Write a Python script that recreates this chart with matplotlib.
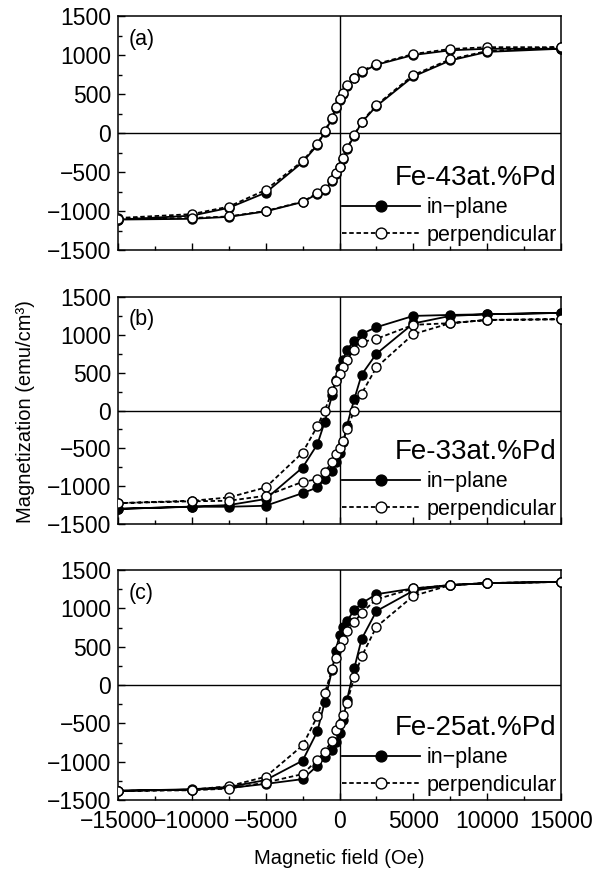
import matplotlib
matplotlib.use("Agg")
import matplotlib.pyplot as plt
from matplotlib.ticker import MultipleLocator

plt.rcParams['font.family'] = ['Liberation Sans', 'DejaVu Sans']

# field steps: down branch (+15000 -> -15000), then up branch back
field_down = [15000, 10000, 7500, 5000, 2500, 1500, 1000, 500, 250, 0,
              -250, -500, -1000, -1500, -2500, -5000, -7500, -10000, -15000]
field_up = field_down[::-1]

# (a) Fe-43at.%Pd
a_inplane_down = [1080, 1080, 1060, 1000, 875, 780, 700, 600, 505, 420,
                  320, 185, 15, -155, -375, -765, -960, -1060, -1110]
a_inplane_up = [-1110, -1100, -1075, -1005, -885, -780, -730, -610, -520, -440,
                -335, -205, -35, 135, 345, 725, 930, 1040, 1080]
a_perp_down = [1100, 1100, 1077, 1013, 885, 795, 710, 615, 517, 434,
               333, 196, 30, -140, -359, -730, -944, -1040, -1090]
a_perp_up = [-1100, -1090, -1070, -1000, -880, -773, -722, -603, -509, -432,
             -325, -196, -26, 145, 359, 744, 945, 1051, 1100]

# (b) Fe-33at.%Pd
b_inplane_down = [1290, 1272, 1263, 1250, 1101, 1013, 921, 803, 671, 560,
                  400, 200, -150, -447, -754, -1170, -1250, -1270, -1300]
b_inplane_up = [-1300, -1272, -1272, -1259, -1092, -1017, -908, -798, -680, -560,
                -420, -200, 150, 474, 750, 1150, 1250, 1272, 1290]
b_perp_down = [1206, 1197, 1154, 1132, 947, 904, 803, 671, 575, 487,
               386, 254, 0, -206, -557, -1017, -1149, -1193, -1224]
b_perp_up = [-1224, -1200, -1193, -1127, -943, -908, -812, -680, -579, -491,
             -404, -250, 0, 224, 570, 1009, 1154, 1197, 1206]

# (c) Fe-25at.%Pd
c_inplane_down = [1345, 1329, 1303, 1259, 1184, 1066, 978, 833, 760, 650,
                  450, 200, -220, -605, -987, -1240, -1330, -1360, -1380]
c_inplane_up = [-1380, -1365, -1345, -1290, -1228, -1053, -943, -846, -740, -632,
                -450, -200, 220, 601, 964, 1230, 1303, 1329, 1345]
c_perp_down = [1345, 1329, 1303, 1259, 1118, 943, 816, 701, 592, 496,
               350, 207, -109, -408, -789, -1197, -1320, -1365, -1382]
c_perp_up = [-1382, -1373, -1351, -1272, -1162, -978, -868, -724, -592, -504,
             -395, -232, 101, 372, 759, 1162, 1303, 1329, 1345]

panels = [
    ('(a)', 'Fe-43at.%Pd', a_inplane_down, a_inplane_up, a_perp_down, a_perp_up),
    ('(b)', 'Fe-33at.%Pd', b_inplane_down, b_inplane_up, b_perp_down, b_perp_up),
    ('(c)', 'Fe-25at.%Pd', c_inplane_down, c_inplane_up, c_perp_down, c_perp_up),
]

W, H = 597, 869
# axes boxes in pixels: (left, top, right, bottom)
boxes = [(118, 16, 561, 250), (118, 297, 561, 524), (118, 570, 561, 800)]

fig = plt.figure(figsize=(W / 100, H / 100), dpi=100)
loop_field = field_down + field_up

for i, (tag, name, ip_d, ip_u, pp_d, pp_u) in enumerate(panels):
    l, t, r, b = boxes[i]
    ax = fig.add_axes([l / W, 1 - b / H, (r - l) / W, (b - t) / H])
    ax.axhline(0, color='black', lw=1.0, zorder=1)
    ax.axvline(0, color='black', lw=1.0, zorder=1)

    ax.plot(loop_field, pp_d + pp_u, ls=(0, (2.5, 1.5)), color='black', lw=1.3,
            marker='o', ms=6.5, mfc='white', mec='black', mew=1.0,
            label='perpendicular', zorder=3)
    ax.plot(loop_field, ip_d + ip_u, ls='-', color='black', lw=1.3,
            marker='o', ms=6.5, mfc='black', mec='black', mew=1.0,
            label='in\u2212plane', zorder=2)

    ax.set_xlim(-15000, 15000)
    ax.set_ylim(-1500, 1500)
    ax.xaxis.set_major_locator(MultipleLocator(5000))
    ax.xaxis.set_minor_locator(MultipleLocator(2500))
    ax.yaxis.set_major_locator(MultipleLocator(500))
    ax.yaxis.set_minor_locator(MultipleLocator(250))
    ax.tick_params(which='both', direction='in', top=False, right=False,
                   labelsize=16.5, width=1.0)
    ax.tick_params(which='major', length=5)
    ax.tick_params(which='minor', length=3)
    ax.tick_params(axis='y', pad=5)
    ax.tick_params(axis='x', pad=7)
    for sp in ax.spines.values():
        sp.set_linewidth(1.1)

    ax.text(0.025, 0.9, tag, transform=ax.transAxes, fontsize=15.5, va='center')

    handles, labels = ax.get_legend_handles_labels()
    ax.legend(handles[::-1], labels[::-1], loc='lower right',
              frameon=False, fontsize=15.5, title=name,
              title_fontsize=20, alignment='right',
              handlelength=3.6, handletextpad=0.3, labelspacing=0.3,
              borderaxespad=0.05, borderpad=0.15, markerscale=1.2)

    if i < 2:
        ax.tick_params(labelbottom=False)
    else:
        ax.set_xlabel('Magnetic field (Oe)', fontsize=14.5, labelpad=12)

fig.text(0.042, 0.526, 'Magnetization (emu/cm\u00b3)', rotation=90,
         fontsize=14.5, ha='center', va='center')

fig.savefig('out.png', dpi=100)
